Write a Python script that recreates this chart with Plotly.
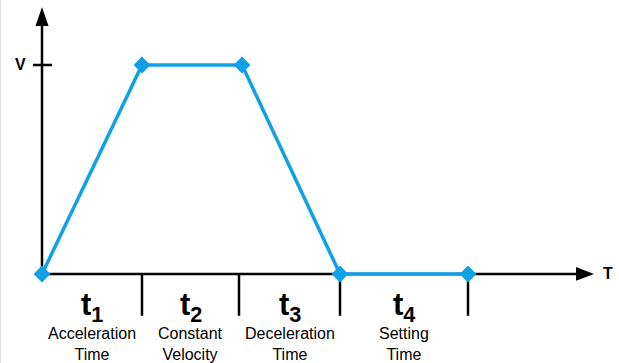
import plotly.graph_objects as go

# velocity profile (time in units, velocity normalised to V)
time_pts = [0, 1, 2, 2.98, 4.26]
velocity = [0, 1, 1, 0, 0]

# phase boundaries on the time axis
phase_ends = [1, 1.97, 2.98, 4.26]
phase_starts = [0, 1, 1.97, 2.98]
phase_names = ["t<sub>1</sub>", "t<sub>2</sub>", "t<sub>3</sub>", "t<sub>4</sub>"]
phase_desc = ["Acceleration<br>Time", "Constant<br>Velocity", "Deceleration<br>Time", "Setting<br>Time"]

BLUE = "#10a0e6"

fig = go.Figure()
fig.add_trace(go.Scatter(
    x=time_pts, y=velocity, mode="lines+markers",
    line=dict(color=BLUE, width=3.5),
    marker=dict(symbol="diamond", size=13, color=BLUE),
    hoverinfo="skip", showlegend=False,
))

shapes = []
# axes
shapes.append(dict(type="line", x0=0, y0=0, x1=5.36, y1=0, line=dict(color="black", width=2.5), layer="below"))
shapes.append(dict(type="path", path="M 5.34,0.033 L 5.52,0 L 5.34,-0.033 Z", fillcolor="black", line=dict(width=0)))
shapes.append(dict(type="line", x0=0, y0=0, x1=0, y1=1.2, line=dict(color="black", width=2.5), layer="below"))
shapes.append(dict(type="path", path="M -0.065,1.187 L 0,1.278 L 0.065,1.187 Z", fillcolor="black", line=dict(width=0)))
# V tick
shapes.append(dict(type="line", x0=-0.09, y0=1, x1=0.1, y1=1, line=dict(color="black", width=2.5), layer="below"))
# phase ticks
for xe in phase_ends:
    shapes.append(dict(type="line", x0=xe, y0=0, x1=xe, y1=-0.2, line=dict(color="black", width=2.5), layer="below"))
# faint left border
shapes.append(dict(type="line", xref="paper", yref="paper", x0=0, y0=0, x1=0, y1=1, line=dict(color="#dddddd", width=2)))

annotations = [
    dict(x=-0.22, y=1, text="<b>V</b>", showarrow=False, font=dict(size=16)),
    dict(x=5.66, y=0, text="<b>T</b>", showarrow=False, font=dict(size=16)),
]
for xs, xe, nm, ds in zip(phase_starts, phase_ends, phase_names, phase_desc):
    xc = (xs + xe) / 2
    annotations.append(dict(x=xc, y=-0.16, text="<b>" + nm + "</b>", showarrow=False,
                            font=dict(size=31, color="black")))
    annotations.append(dict(x=xc, y=-0.335, text=ds, showarrow=False,
                            font=dict(size=16, color="black")))

fig.update_layout(
    width=619, height=363,
    margin=dict(l=0, r=0, t=0, b=0),
    paper_bgcolor="white", plot_bgcolor="white",
    font=dict(family="Liberation Sans, Arial, sans-serif", color="black"),
    xaxis=dict(range=[-0.42, 5.77], visible=False, fixedrange=True),
    yaxis=dict(range=[-0.426, 1.311], visible=False, fixedrange=True),
    shapes=shapes, annotations=annotations,
)

fig.write_html("out.html", config={"displayModeBar": False},
               post_script="document.body.style.margin='0';")
